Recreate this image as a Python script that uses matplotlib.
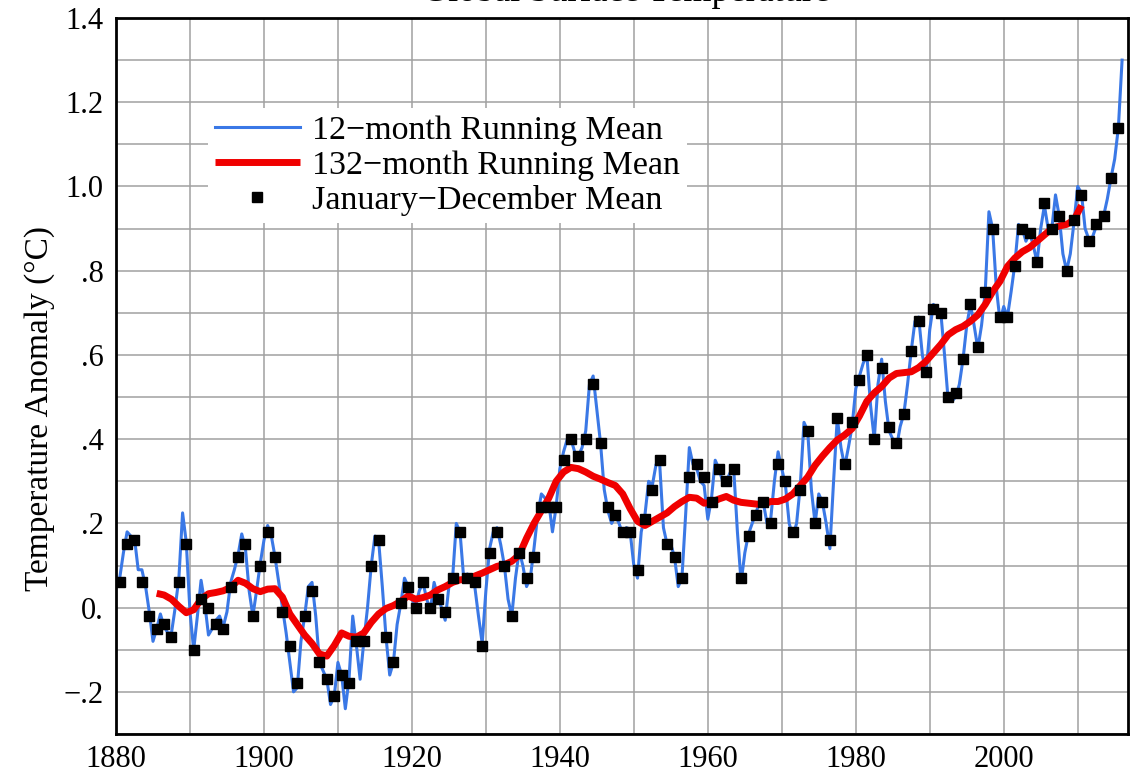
import numpy as np
import matplotlib
matplotlib.use("Agg")
import matplotlib.pyplot as plt

plt.rcParams['font.family'] = ['Liberation Serif', 'DejaVu Serif']

# Jan-Dec mean, 1880..2015 (deg C)
jd_years = np.arange(1880, 2016)
jd_mean = [
    0.06, 0.15, 0.16, 0.06, -0.02, -0.05, -0.04, -0.07, 0.06, 0.15,   # 1880s
    -0.10, 0.02, 0.00, -0.04, -0.05, 0.05, 0.12, 0.15, -0.02, 0.10,   # 1890s
    0.18, 0.12, -0.01, -0.09, -0.18, -0.02, 0.04, -0.13, -0.17, -0.21, # 1900s
    -0.16, -0.18, -0.08, -0.08, 0.10, 0.16, -0.07, -0.13, 0.01, 0.05,  # 1910s
    0.00, 0.06, 0.00, 0.02, -0.01, 0.07, 0.18, 0.07, 0.06, -0.09,     # 1920s
    0.13, 0.18, 0.10, -0.02, 0.13, 0.07, 0.12, 0.24, 0.24, 0.24,      # 1930s
    0.35, 0.40, 0.36, 0.40, 0.53, 0.39, 0.24, 0.22, 0.18, 0.18,       # 1940s
    0.09, 0.21, 0.28, 0.35, 0.15, 0.12, 0.07, 0.31, 0.34, 0.31,       # 1950s
    0.25, 0.33, 0.30, 0.33, 0.07, 0.17, 0.22, 0.25, 0.20, 0.34,       # 1960s
    0.30, 0.18, 0.28, 0.42, 0.20, 0.25, 0.16, 0.45, 0.34, 0.44,       # 1970s
    0.54, 0.60, 0.40, 0.57, 0.43, 0.39, 0.46, 0.61, 0.68, 0.56,       # 1980s
    0.71, 0.70, 0.50, 0.51, 0.59, 0.72, 0.62, 0.75, 0.90, 0.69,       # 1990s
    0.69, 0.81, 0.90, 0.89, 0.82, 0.96, 0.90, 0.93, 0.80, 0.92,       # 2000s
    0.98, 0.87, 0.91, 0.93, 1.02, 1.14,                               # 2010s
]

# 12-month running mean, every half year from 1880.5 to 2016.0
run12 = [
    0.07, 0.13, 0.18, 0.17, 0.165, 0.09, 0.09, 0.05, -0.01, -0.08,
    -0.05, -0.015, -0.045, -0.06, -0.06, 0.00, 0.07, 0.225, 0.155, -0.01,
    -0.10, -0.02, 0.065, 0.01, -0.065, -0.05, -0.03, -0.02, -0.045, -0.01,
    0.06, 0.09, 0.125, 0.175, 0.14, 0.04, -0.02, 0.04, 0.105, 0.16,
    0.195, 0.17, 0.12, 0.06, 0.00, -0.06, -0.13, -0.20, -0.19, -0.08,
    -0.02, 0.05, 0.06, -0.02, -0.13, -0.15, -0.17, -0.23, -0.21, -0.13,
    -0.16, -0.24, -0.17, -0.02, -0.09, -0.17, -0.08, 0.00, 0.10, 0.17,
    0.16, 0.05, -0.07, -0.16, -0.13, -0.04, 0.01, 0.07, 0.05, 0.02,
    0.005, 0.04, 0.06, 0.02, -0.005, 0.06, 0.025, 0.00, -0.03, 0.05,
    0.07, 0.20, 0.18, 0.07, 0.08, 0.07, 0.05, -0.02, -0.085, 0.04,
    0.14, 0.18, 0.19, 0.15, 0.10, 0.02, -0.02, 0.07, 0.135, 0.10,
    0.05, 0.07, 0.14, 0.22, 0.27, 0.26, 0.25, 0.18, 0.24, 0.33,
    0.37, 0.40, 0.40, 0.37, 0.36, 0.38, 0.42, 0.53, 0.55, 0.47,
    0.39, 0.28, 0.23, 0.20, 0.22, 0.20, 0.175, 0.19, 0.18, 0.10,
    0.07, 0.18, 0.22, 0.30, 0.29, 0.34, 0.34, 0.19, 0.15, 0.15,
    0.12, 0.05, 0.07, 0.22, 0.38, 0.34, 0.33, 0.30, 0.29, 0.21,
    0.26, 0.35, 0.33, 0.30, 0.30, 0.32, 0.33, 0.18, 0.06, 0.13,
    0.175, 0.20, 0.225, 0.25, 0.25, 0.20, 0.21, 0.30, 0.37, 0.33,
    0.29, 0.20, 0.17, 0.20, 0.29, 0.44, 0.42, 0.28, 0.20, 0.27,
    0.25, 0.20, 0.14, 0.30, 0.45, 0.38, 0.335, 0.38, 0.43, 0.52,
    0.55, 0.58, 0.60, 0.48, 0.40, 0.53, 0.59, 0.49, 0.42, 0.40,
    0.38, 0.43, 0.46, 0.53, 0.61, 0.68, 0.69, 0.60, 0.555, 0.66,
    0.72, 0.70, 0.70, 0.60, 0.49, 0.49, 0.50, 0.53, 0.59, 0.67,
    0.72, 0.67, 0.615, 0.67, 0.75, 0.94, 0.90, 0.76, 0.68, 0.715,
    0.69, 0.75, 0.815, 0.91, 0.90, 0.87, 0.89, 0.86, 0.82, 0.90,
    0.955, 0.90, 0.90, 0.98, 0.93, 0.84, 0.80, 0.84, 0.915, 1.00,
    0.985, 0.90, 0.875, 0.88, 0.905, 0.92, 0.93, 0.97, 1.02, 1.065,
    1.14, 1.30,
]

# 132-month running mean, yearly from 1885.5 to 2010.5
run132 = [
    0.034, 0.03, 0.02, 0.003, -0.012,                                  # 1885-89
    -0.005, 0.02, 0.033, 0.036, 0.04, 0.048, 0.065, 0.058, 0.045, 0.038,
    0.044, 0.045, 0.025, -0.015, -0.04, -0.065, -0.085, -0.11, -0.115, -0.09,
    -0.06, -0.068, -0.07, -0.06, -0.035, -0.015, -0.002, 0.005, 0.015, 0.028,
    0.02, 0.024, 0.03, 0.042, 0.05, 0.06, 0.066, 0.068, 0.075, 0.082,
    0.09, 0.098, 0.102, 0.11, 0.125, 0.165, 0.20, 0.23, 0.26, 0.30,
    0.322, 0.333, 0.33, 0.322, 0.312, 0.305, 0.297, 0.29, 0.27, 0.235,
    0.205, 0.195, 0.205, 0.215, 0.225, 0.24, 0.252, 0.262, 0.26, 0.248,
    0.25, 0.258, 0.264, 0.255, 0.25, 0.248, 0.246, 0.245, 0.252, 0.252,
    0.258, 0.27, 0.29, 0.31, 0.338, 0.36, 0.38, 0.398, 0.41, 0.425,
    0.455, 0.49, 0.51, 0.525, 0.545, 0.556, 0.558, 0.56, 0.57, 0.585,
    0.605, 0.625, 0.648, 0.66, 0.668, 0.68, 0.695, 0.72, 0.75, 0.775,
    0.81, 0.83, 0.845, 0.855, 0.87, 0.885, 0.90, 0.906, 0.91, 0.92,
    0.955,
]

t12 = 1880.5 + 0.5 * np.arange(len(run12))
t132 = 1885.5 + np.arange(len(run132))
tjd = jd_years + 0.5

fig = plt.figure(figsize=(11.43, 7.73), dpi=100)
ax = fig.add_axes([116/1143, 39/773, 1012/1143, 716/773])

ax.plot(t12, run12, color="#3a78e6", lw=2.2, label="12\u2212month Running Mean", zorder=3)
ax.plot(t132, run132, color="#f00000", lw=5, label="132\u2212month Running Mean",
        zorder=4, solid_capstyle="butt")
ax.plot(tjd, jd_mean, "s", color="black", ms=7, label="January\u2212December Mean", zorder=5)

ax.set_xlim(1880, 2016.8)
ax.set_ylim(-0.3, 1.4)
ax.set_xticks(np.arange(1880, 2001, 20))
ax.set_xticks(np.arange(1880, 2017, 10), minor=True)
ax.set_yticks(np.arange(-0.2, 1.41, 0.2))
ax.set_yticklabels(["\u2212.2", "0.", ".2", ".4", ".6", ".8", "1.0", "1.2", "1.4"])
ax.set_yticks(np.arange(-0.3, 1.41, 0.1), minor=True)
ax.grid(True, which="both", color="#a0a0a0", lw=1.1, zorder=0)
ax.tick_params(which="both", length=0)
ax.tick_params(axis="y", labelsize=22, pad=9)
ax.tick_params(axis="x", labelsize=22, pad=8)
for s in ax.spines.values():
    s.set_linewidth(2)

ax.set_ylabel("Temperature Anomaly (\u00b0C)", fontsize=24)
ax.yaxis.set_label_coords(-0.06, 0.455)

leg = ax.legend(loc="upper left", bbox_to_anchor=(0.091, 0.874), fontsize=24.5,
                frameon=True, fancybox=False, framealpha=1, edgecolor="none",
                handlelength=2.5, handletextpad=0.35, labelspacing=0.12,
                borderpad=0.2, borderaxespad=0, numpoints=1)

# title sits mostly above the canvas, as in the source image
fig.text(0.548, 0.999, "Global Surface Temperature", fontsize=26, ha="center", va="baseline")

fig.savefig("out.png", dpi=100)
